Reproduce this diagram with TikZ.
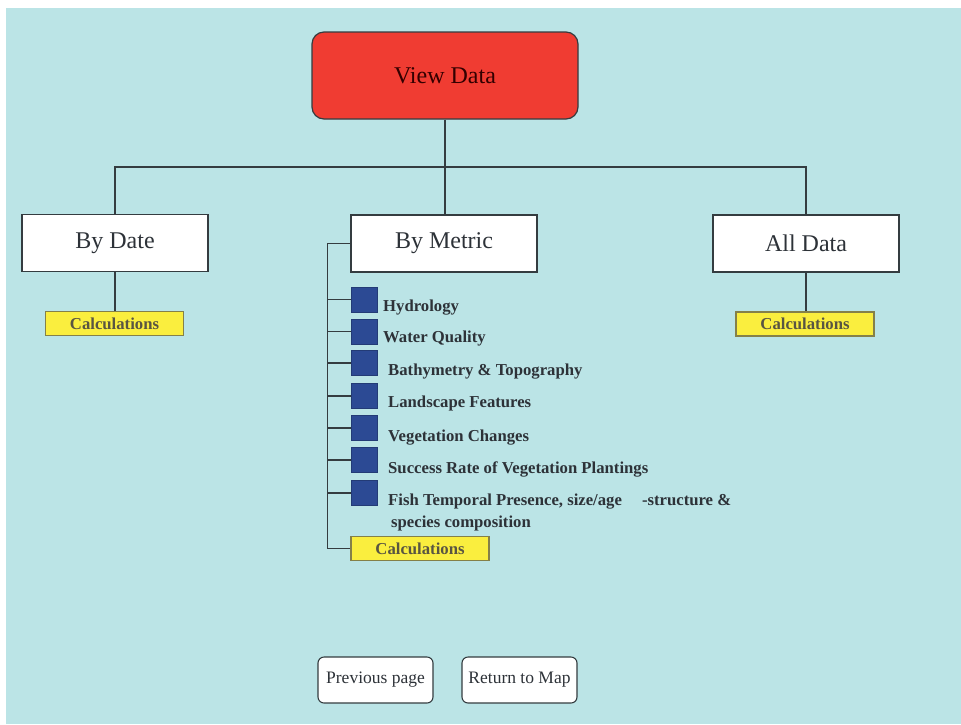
\documentclass[tikz,border=0pt]{standalone}
\usepackage{fontspec}
\setmainfont{LiberationSerif-Regular.ttf}[BoldFont=LiberationSerif-Bold.ttf]
\definecolor{bgc}{RGB}{187,228,230}
\definecolor{redc}{RGB}{240,60,50}
\definecolor{yelc}{RGB}{250,238,62}
\definecolor{bluec}{RGB}{44,74,148}
\definecolor{linec}{RGB}{52,60,64}
\definecolor{textc}{RGB}{45,50,56}
\begin{document}
\begin{tikzpicture}[x=1pt,y=-1pt,
  conn/.style={draw=linec, line width=1.1pt},
  headbox/.style={draw=linec, line width=1.2pt, fill=redc, rounded corners=12pt,
    minimum width=266pt, minimum height=87pt, inner sep=0pt,
    font=\fontsize{24}{28}\selectfont, text=black!80!red},
  catbox/.style={draw=linec, line width=1.2pt, fill=white,
    minimum width=186pt, minimum height=57pt, inner sep=0pt,
    font=\fontsize{24}{28}\selectfont, text=textc},
  calcbox/.style={draw=black!55!yellow, line width=1.1pt, fill=yelc,
    minimum width=138pt, minimum height=24pt, inner sep=0pt,
    font=\bfseries\fontsize{16.7}{20}\selectfont, text=black!75!yellow},
  metricsq/.style={fill=bluec, draw=bluec!80!black, line width=0.6pt,
    minimum width=26pt, minimum height=25pt, inner sep=0pt},
  metriclabel/.style={anchor=base west, inner sep=0pt, text=textc,
    font=\bfseries\fontsize{16.7}{21.5}\selectfont, align=left},
  navbtn/.style={draw=linec, line width=1.1pt, fill=white, rounded corners=6pt,
    minimum width=115pt, minimum height=46pt, inner sep=0pt,
    font=\fontsize{17.5}{20}\selectfont, text=textc}]

% page and backdrop
\fill[white] (0,0) rectangle (961,724);
\fill[bgc] (6,8) rectangle (961,724);
\useasboundingbox (0,0) rectangle (961,724);

% top level
\node[headbox] (view) at (445,75.5) {View Data};

% second level
\node[catbox] (bydate) at (115,243) {By Date};
\node[catbox] (bymetric) at (444,243.5) {By Metric};
\node[catbox] (alldata) at (806,243.5) {All Data};

% calculations boxes
\node[calcbox] (calcL) at (114.5,323.5) {Calculations};
\node[calcbox] (calcR) at (805,324) {Calculations};
\node[calcbox] (calcM) at (420,548.5) {Calculations};

% metric list
\foreach \i/\yc in {1/299.5,2/331.5,3/363,4/396,5/428,6/460,7/493}{
  \node[metricsq] (sq\i) at (364,\yc) {};
}
\node[metriclabel] (lab1) at (383,311) {Hydrology};
\node[metriclabel] (lab2) at (383,342) {Water Quality};
\node[metriclabel] (lab3) at (388,375) {Bathymetry \& Topography};
\node[metriclabel] (lab4) at (388,407) {Landscape Features};
\node[metriclabel] (lab5) at (388,441) {Vegetation Changes};
\node[metriclabel] (lab6) at (388,473) {Success Rate of Vegetation Plantings};
% two-line label: the base anchor sits on its last line
\node[metriclabel] (lab7) at (388,527) {Fish Temporal Presence, size/age\hspace{1.2em}-structure \&\\\hspace{3pt}species composition};

% navigation buttons
\node[navbtn] (prev) at (375.5,680) {Previous page};
\node[navbtn] (ret) at (519.5,680) {Return to Map};

% connectors
\coordinate (junc) at (445,167);
\draw[conn] (view.south) -- (bymetric.north -| view.south);
\draw[conn] (bydate.north) -- (bydate.north |- junc) -- (alldata.north |- junc) -- (alldata.north);
\draw[conn] (bydate.south) -- (calcL.north -| bydate.south);
\draw[conn] (alldata.south) -- (calcR.north -| alldata.south);
\draw[conn] (bymetric.west) -- ++(-23,0) coordinate (railtop)
  -- (railtop |- calcM.west) -- (calcM.west);
\foreach \i in {1,...,7}{
  \draw[conn] (sq\i.west) -- (sq\i.west -| railtop);
}
\end{tikzpicture}
\end{document}
